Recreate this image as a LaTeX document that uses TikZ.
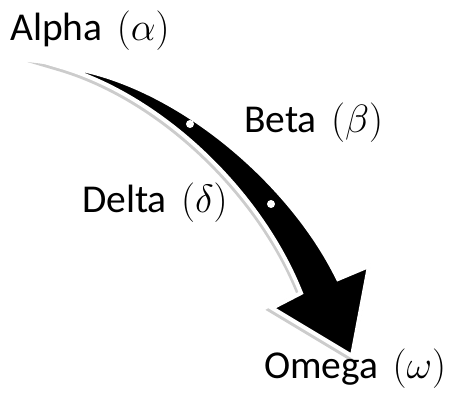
\RequirePackage{fix-cm}
\documentclass[tikz,border=0pt]{standalone}
\usepackage{fontspec}
\setmainfont{Carlito}
\usepackage{tikz}
\usetikzlibrary{positioning}

\newcommand{\arrowpath}{(58,66) .. controls (170,78) and (290,180) .. (338,279)
    -- (369,266) -- (352,356) -- (272,308) -- (301,293)
    .. controls (260,190) and (160,95) .. cycle}
\newcommand{\greek}[1]{\hspace{.36em}$(#1)$}

\begin{document}
\begin{tikzpicture}[x=1pt, y=-1pt,
    label/.style={anchor=base west, inner sep=0pt, font=\fontsize{39.5}{46}\selectfont},
    dot/.style={circle, fill=gray!45, draw=white, line width=3.2pt, inner sep=0pt, minimum size=4.5pt}]
    \useasboundingbox (0,0) rectangle (453,397);

    % Shadow and arrow
    \filldraw[gray!40, line width=5pt, miter limit=25, shift={(-1.5,2)}] \arrowpath;
    \filldraw[fill=black, draw=white, line width=4pt, miter limit=25] \arrowpath;

    % Points on the curve
    \node[dot] (b) at (190,124) {};
    \node[dot] (d) at (271,204) {};

    % Labels
    \node[label] (alpha) at (10,40) {Alpha\greek{\alpha}};
    \node[label] (beta) at (244,132) {Beta\greek{\beta}};
    \node[label] (delta) at (82,212) {Delta\greek{\delta}};
    \node[label] (omega) at (264,378) {Omega\greek{\omega}};
\end{tikzpicture}
\end{document}
